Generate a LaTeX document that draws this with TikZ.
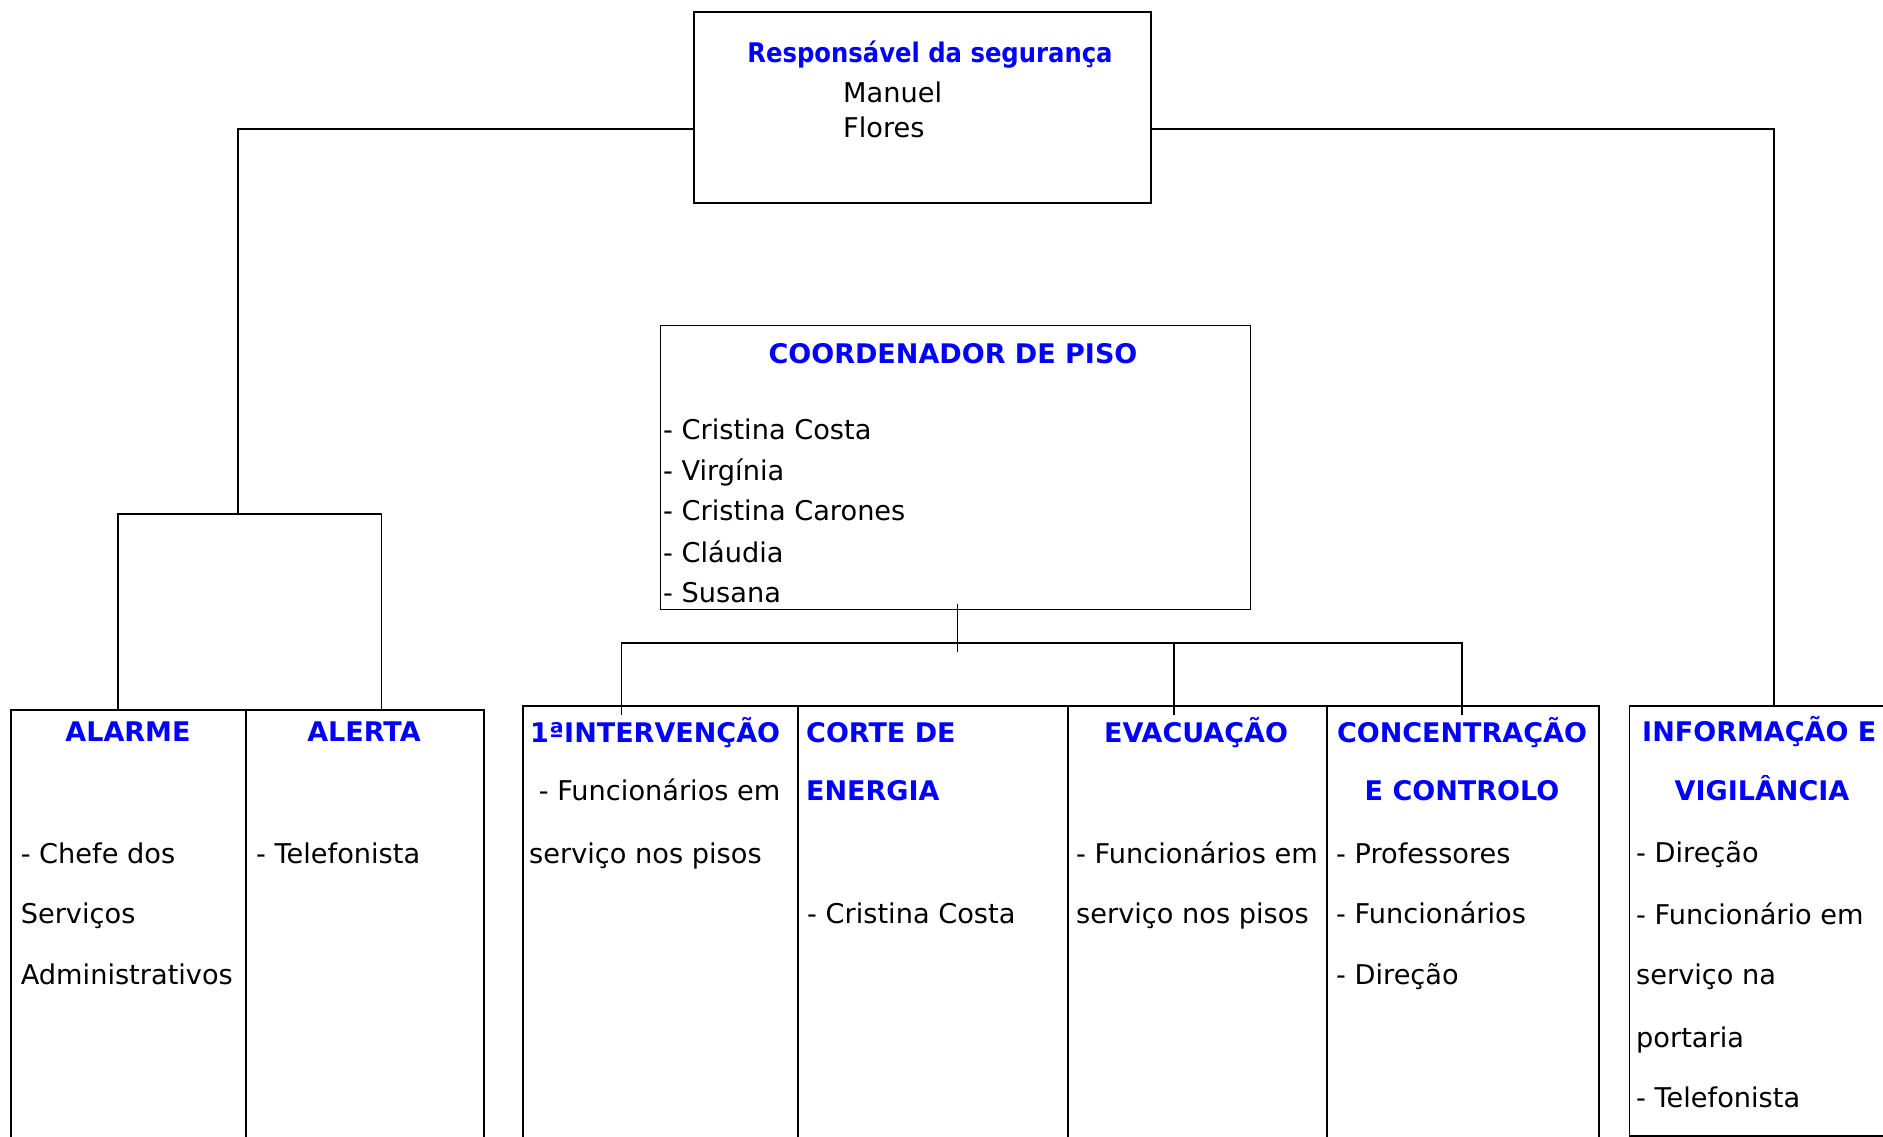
\documentclass[tikz,border=0pt]{standalone}
\usepackage{fontspec}
\setmainfont{DejaVu Sans}
\newfontfamily\condfont{DejaVu Sans Condensed}
\usetikzlibrary{calc}
\definecolor{hdblue}{RGB}{0,0,255}
\begin{document}
\begin{tikzpicture}[x=1pt,y=-1pt,
  box/.style={draw, line width=2pt, inner sep=0pt, anchor=north west},
  thinbox/.style={draw, line width=1.3pt, inner sep=0pt, anchor=north west},
  conn/.style={line width=1.5pt},
  txt/.style={inner sep=0pt, anchor=base west, font=\fontsize{27.2pt}{30pt}\selectfont},
  hd/.style={inner sep=0pt, anchor=base, text=hdblue, font=\bfseries\fontsize{27pt}{30pt}\selectfont},
  hdw/.style={hd, anchor=base west},
]
\useasboundingbox (0,0) rectangle (1883,1136);
\fill[white] (0,0) rectangle (1883,1136);

% boxes
\node[box, minimum width=457pt, minimum height=191pt] (top) at (693,11) {};
\node[thinbox, minimum width=590pt, minimum height=284pt] (coord) at (660,325) {};
\node[box, minimum width=235.5pt, minimum height=450pt] (alarme) at (9.5,709) {};
\node[box, minimum width=238pt, minimum height=450pt] (alerta) at (245,709) {};
\node[box, line width=1.6pt, minimum width=275pt, minimum height=450pt] (interv) at (522,705) {};
\node[box, line width=1.6pt, minimum width=270pt, minimum height=450pt] (corte) at (797,705) {};
\node[box, line width=1.6pt, minimum width=259pt, minimum height=450pt] (evac) at (1067,705) {};
\node[box, line width=1.6pt, minimum width=272pt, minimum height=450pt] (conc) at (1326,705) {};
\node[box, line width=1.6pt, minimum width=280pt, minimum height=430pt] (info) at (1628.5,705) {};

% connectors
\coordinate (tL) at ($(top.north west)+(0,118)$);
\coordinate (tR) at ($(top.north east)+(0,118)$);
\coordinate (jL) at (238,514);
\coordinate (pA) at ($(alarme.north west)+(108.5,0)$);
\coordinate (pB) at ($(alerta.north west)+(136.6,0)$);
\coordinate (pI) at ($(info.north west)+(145.5,0)$);
\draw[conn] (tL) -| (jL);
\draw[conn] (pA) |- (jL) -| (pB);
\draw[conn] (tR) -| (pI);

\coordinate (cS) at ($(coord.south west)+(297.5,-6)$);
\coordinate (cE) at (957.5,652);
\coordinate (cJ) at (957.5,643);
\coordinate (q1) at ($(interv.north west)+(99.7,10)$);
\coordinate (q3) at ($(evac.north west)+(107,10)$);
\coordinate (q4) at ($(conc.north west)+(136,10)$);
\draw[conn] (cS) -- (cE);
\draw[conn] (q1) |- (cJ) -| (q4);
\draw[conn] (q3) -- (q3 |- cJ);

% top box text
\node[hd, font=\condfont\bfseries\fontsize{27pt}{30pt}\selectfont] (t0) at (930,62) {Responsável da segurança};
\node[txt] (t1) at (843,102) {Manuel};
\node[txt] (t2) at (843,137) {Flores};

% coordinator text
\node[hd] (c0) at (953,363) {COORDENADOR DE PISO};
\node[txt] (c1) at (663,439) {- Cristina Costa};
\node[txt] (c2) at (663,480) {- Virgínia};
\node[txt] (c3) at (663,520) {- Cristina Carones};
\node[txt] (c4) at (663,562) {- Cláudia};
\node[txt] (c5) at (663,602) {- Susana};

% alarme / alerta
\node[hd] (a0) at (128,741) {ALARME};
\node[txt] (a1) at (20.6,863) {- Chefe dos};
\node[txt] (a2) at (20.6,923) {Serviços};
\node[txt] (a3) at (20.6,984) {Administrativos};
\node[hd] (b0) at (364,741) {ALERTA};
\node[txt] (b1) at (256,863) {- Telefonista};

% intervencao
\node[hdw] (i0) at (530,742) {1ªINTERVENÇÃO};
\node[txt] (i1) at (530,800) {\ - Funcionários em};
\node[txt] (i2) at (529,863) {serviço nos pisos};

% corte
\node[hdw] (k0) at (806,742) {CORTE DE};
\node[hdw] (k1) at (806,800) {ENERGIA};
\node[txt] (k2) at (807,923) {- Cristina Costa};

% evacuacao
\node[hd] (e0) at (1196,742) {EVACUAÇÃO};
\node[txt] (e1) at (1076,863) {- Funcionários em};
\node[txt] (e2) at (1076,923) {serviço nos pisos};

% concentracao
\node[hd] (n0) at (1462,742) {CONCENTRAÇÃO};
\node[hd] (n1) at (1462,800) {E CONTROLO};
\node[txt] (n2) at (1336,863) {- Professores};
\node[txt] (n3) at (1336,923) {- Funcionários};
\node[txt] (n4) at (1336,984) {- Direção};

% informacao
\node[hdw] (f0) at (1642,741) {INFORMAÇÃO E};
\node[hd] (f1) at (1762,800) {VIGILÂNCIA};
\node[txt] (f2) at (1636,862) {- Direção};
\node[txt] (f3) at (1636,924) {- Funcionário em};
\node[txt] (f4) at (1636,984) {serviço na};
\node[txt] (f5) at (1636,1047) {portaria};
\node[txt] (f6) at (1636,1107) {- Telefonista};
\end{tikzpicture}
\end{document}
